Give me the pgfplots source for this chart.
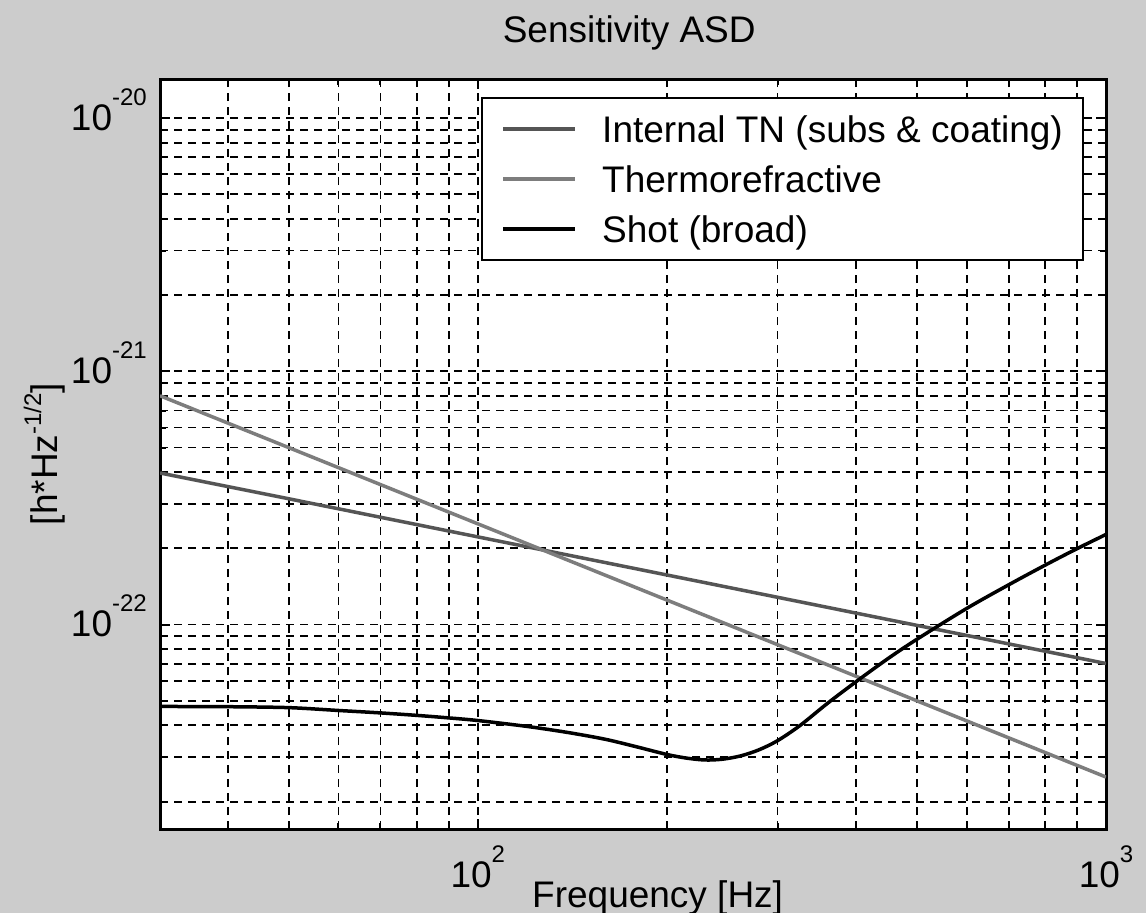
\documentclass[border=0pt]{standalone}
\usepackage{fontspec}
\setmainfont{Liberation Sans}
\usepackage{pgfplots}
\pgfplotsset{compat=1.18}
\definecolor{bg}{RGB}{204,204,204}
\definecolor{cint}{RGB}{85,85,85}
\definecolor{cthr}{RGB}{125,125,125}
\newcommand{\bigf}{\fontsize{37pt}{44pt}\selectfont}
\newcommand{\tp}[1]{10\raisebox{25pt}{\fontsize{24pt}{24pt}\selectfont #1}}
\begin{document}
\begin{tikzpicture}
\path[use as bounding box, fill=bg] (0,0) rectangle (1146pt,913pt);
\begin{axis}[
  at={(160pt,84pt)}, anchor=south west,
  scale only axis, width=946pt, height=750pt,
  xmode=log, ymode=log,
  xmin=31.2, xmax=1000, ymin=1.558e-23, ymax=1.426e-20,
  axis background/.style={fill=white},
  xtick={100,1000}, xticklabels={\tp{2},\tp{3}},
  ytick={1e-22,1e-21,1e-20}, yticklabels={\tp{-22},\tp{-21},\tp{-20}},
  minor xtick={40,50,60,70,80,90,200,300,400,500,600,700,800,900},
  minor ytick={2e-23,3e-23,4e-23,5e-23,6e-23,7e-23,8e-23,9e-23,2e-22,3e-22,4e-22,5e-22,6e-22,7e-22,8e-22,9e-22,2e-21,3e-21,4e-21,5e-21,6e-21,7e-21,8e-21,9e-21},
  grid=both,
  major grid style={black, line width=1.8pt, dash pattern=on 8pt off 6pt},
  minor grid style={black, line width=1.8pt, dash pattern=on 8pt off 6pt},
  axis line style={black, line width=3pt},
  tick style={black, line width=2pt},
  major tick length=10pt, minor tick length=6pt,
  tick align=inside, xtick pos=both, ytick pos=both,
  every tick label/.append style={font=\bigf, inner sep=0pt},
  xticklabel style={anchor=base, yshift=-58pt},
  yticklabel style={anchor=base east, xshift=-13pt, yshift=-12pt},
  title={Sensitivity ASD},
  title style={font=\bigf, inner sep=0pt, at={(axis description cs:0.496,1.0413)}, anchor=base},
  xlabel={Frequency [Hz]},
  xlabel style={font=\bigf, inner sep=0pt, at={(axis description cs:0.526,-0.104)}, anchor=base},
  ylabel={[h*Hz\raisebox{16pt}{\fontsize{24pt}{24pt}\selectfont -1/2}]},
  ylabel style={font=\bigf, inner sep=0pt, at={(axis description cs:-0.1088,0.5)}, anchor=base},
  legend style={at={(axis description cs:0.339,0.976)}, anchor=north west,
    draw=black, line width=2pt, fill=white, font=\bigf,
    inner xsep=20pt, inner ysep=14pt, row sep=16pt,
    cells={anchor=west},
    nodes={inner sep=0pt, text height=30pt, text depth=4pt},
    /tikz/every odd column/.append style={column sep=25pt}},
  legend image code/.code={\draw[#1] (0pt,0pt) -- (72pt,0pt);},
]
\addplot[cint, line width=3.5pt] coordinates {
(31.2,3.97e-22) (50,3.14e-22) (100,2.22e-22) (200,1.57e-22) (500,9.93e-23) (1000,7.02e-23)};
\addlegendentry{Internal TN (subs \& coating)}
\addplot[cthr, line width=3.5pt] coordinates {
(31.2,8.01e-22) (50,5.0e-22) (100,2.5e-22) (200,1.25e-22) (500,5.0e-23) (1000,2.5e-23)};
\addlegendentry{Thermorefractive}
\addplot[black, line width=3.5pt, smooth, tension=0.5] coordinates {
(31.2,4.75e-23) (40,4.74e-23) (50,4.70e-23) (60,4.58e-23) (70,4.48e-23) (80,4.38e-23) (90,4.28e-23) (100,4.18e-23) (120,3.96e-23) (140,3.74e-23) (160,3.52e-23) (180,3.28e-23) (200,3.07e-23) (215,2.97e-23) (230,2.92e-23) (245,2.94e-23) (262,3.03e-23) (280,3.20e-23) (300,3.48e-23) (326,4.00e-23) (360,4.88e-23) (400,5.95e-23) (450,7.35e-23) (500,8.75e-23) (600,1.158e-22) (700,1.436e-22) (800,1.717e-22) (900,1.997e-22) (1000,2.27e-22)};
\addlegendentry{Shot (broad)}
\end{axis}
\end{tikzpicture}
\end{document}
